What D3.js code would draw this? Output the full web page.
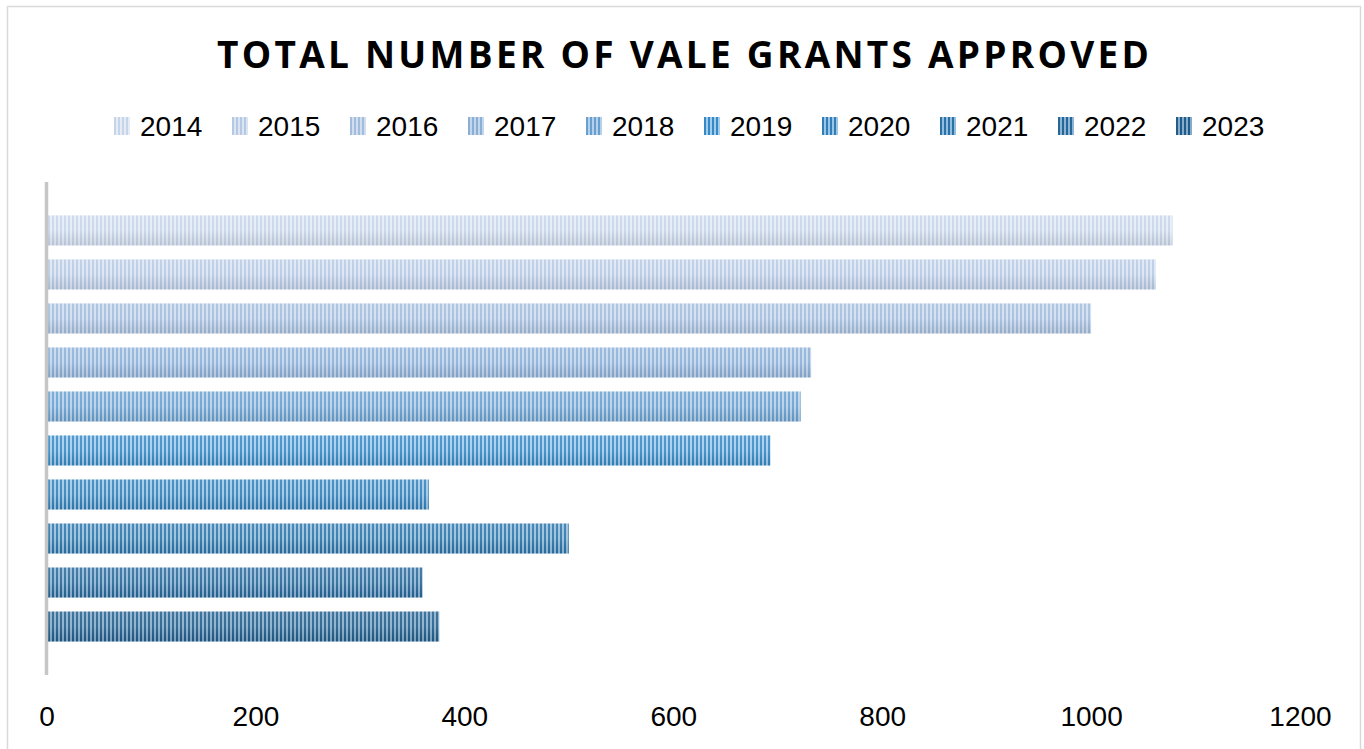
<!DOCTYPE html>
<html>
<head>
<meta charset="utf-8">
<script src="https://cdn.jsdelivr.net/npm/d3@7"></script>
<style>
	html, body { margin: 0; padding: 0; background: #fff; }
	svg { display: block; }
</style>
</head>
<body>
<div id="chart"></div>
<script>
const years = ["2014", "2015", "2016", "2017", "2018", "2019", "2020", "2021", "2022", "2023"];
const grants = [1078, 1062, 1000, 732, 722, 693, 366, 500, 360, 376];
const xticks = [0, 200, 400, 600, 800, 1000, 1200];

// stripe colours per year: [dark, light]
const darks  = ["#c6d4ea", "#b5c9e4", "#a1bcdd", "#8aafd7", "#689fcf", "#3589c6", "#307fba", "#2b73a7", "#266797", "#1f5c89"];
const lights = ["#e5ecf6", "#dbe5f2", "#d0def0", "#c3d6ec", "#b5d0ea", "#a3cbea", "#9dc6e5", "#94bedd", "#8db4d4", "#86acca"];

const W = 1364, H = 749;

const svg = d3.select("#chart").append("svg")
	.attr("width", W)
	.attr("height", H);

const defs = svg.append("defs");

years.forEach((y, i) => {
	const p = defs.append("pattern")
		.attr("id", `stripe-${y}`)
		.attr("patternUnits", "userSpaceOnUse")
		.attr("x", 0)
		.attr("y", 0)
		.attr("width", 4)
		.attr("height", 40);
	p.append("rect").attr("width", 4).attr("height", 40).attr("fill", darks[i]);
	p.append("rect").attr("x", 2).attr("width", 2).attr("height", 40).attr("fill", lights[i]);
});

// soft shading so the edges look a little darker than the middle
const shade = defs.append("linearGradient")
	.attr("id", "shade")
	.attr("x1", 0).attr("y1", 0).attr("x2", 0).attr("y2", 1);
shade.append("stop").attr("offset", "0%").attr("stop-color", "#fff").attr("stop-opacity", 0.15);
shade.append("stop").attr("offset", "50%").attr("stop-color", "#fff").attr("stop-opacity", 0.1);
shade.append("stop").attr("offset", "100%").attr("stop-color", "#000").attr("stop-opacity", 0.08);

// chart border
svg.append("rect")
	.attr("x", 7.5)
	.attr("y", 6.5)
	.attr("width", 1353)
	.attr("height", 760)
	.attr("fill", "none")
	.attr("stroke", "#d9d9d9")
	.attr("stroke-width", 1.5);

// title
svg.append("text")
	.attr("x", 683)
	.attr("y", 68)
	.attr("text-anchor", "middle")
	.attr("font-family", "'Open Sans', 'Liberation Sans', sans-serif")
	.attr("font-weight", "bold")
	.attr("font-size", 37)
	.attr("textLength", 932)
	.attr("lengthAdjust", "spacing")
	.attr("fill", "#000")
	.text("TOTAL NUMBER OF VALE GRANTS APPROVED");

// legend
const legend = svg.append("g");
const li = legend.selectAll("g")
	.data(years)
	.enter().append("g")
	.attr("transform", (d, i) => `translate(${114 + i * 118}, 0)`);

li.append("rect")
	.attr("x", 0)
	.attr("y", 117)
	.attr("width", 16)
	.attr("height", 18)
	.attr("fill", d => `url(#stripe-${d})`);

li.append("text")
	.attr("x", 26)
	.attr("y", 136)
	.attr("font-family", "'Liberation Sans', Arial, sans-serif")
	.attr("font-size", 28)
	.attr("fill", "#000")
	.text(d => d);

// scales
const x = d3.scaleLinear()
	.domain([0, 1200])
	.range([46.5, 1300]);

const y = d3.scaleBand()
	.domain(years)
	.range([182, 675])
	.paddingInner(0.318)
	.paddingOuter(0.76);

// bars
const bars = svg.append("g");

bars.selectAll("rect.bar")
	.data(years)
	.enter().append("rect")
	.attr("class", "bar")
	.attr("x", x(0))
	.attr("y", d => y(d))
	.attr("width", (d, i) => x(grants[i]) - x(0))
	.attr("height", y.bandwidth())
	.attr("fill", d => `url(#stripe-${d})`);

bars.selectAll("rect.shade")
	.data(years)
	.enter().append("rect")
	.attr("class", "shade")
	.attr("x", x(0))
	.attr("y", d => y(d))
	.attr("width", (d, i) => x(grants[i]) - x(0))
	.attr("height", y.bandwidth())
	.attr("fill", "url(#shade)");

// category axis line
svg.append("line")
	.attr("x1", x(0))
	.attr("x2", x(0))
	.attr("y1", 182)
	.attr("y2", 675)
	.attr("stroke", "#c6c6c6")
	.attr("stroke-width", 3.5);

// value axis labels
const xAxis = d3.axisBottom(x)
	.tickValues(xticks)
	.tickSize(0)
	.tickPadding(0)
	.tickFormat(d3.format("d"));

const gx = svg.append("g")
	.attr("transform", "translate(0, 706)")
	.call(xAxis);

gx.select(".domain").remove();
gx.selectAll("text")
	.attr("font-family", "'Liberation Sans', Arial, sans-serif")
	.attr("font-size", 28)
	.attr("fill", "#000")
	.attr("dy", "0.71em");
</script>
</body>
</html>
